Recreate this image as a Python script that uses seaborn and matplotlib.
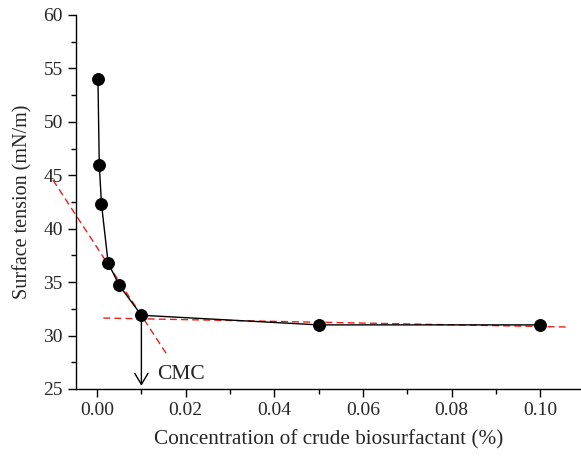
import matplotlib
matplotlib.use("Agg")
import matplotlib.pyplot as plt
import seaborn as sns
import numpy as np
import pandas as pd
from matplotlib.ticker import MultipleLocator

conc = [0.0002, 0.0005, 0.001, 0.0025, 0.005, 0.01, 0.05, 0.1]
tension = [54.0, 46.0, 42.3, 36.8, 34.7, 31.9, 31.0, 31.0]

steep_x = [-0.00995, 0.0158]
steep_y = [44.56, 28.2]
flat_x = [0.0014, 0.106]
flat_y = [31.64, 30.8]

cmc_x = 0.01
cmc_y_top = 31.9

x_ticks = [0.00, 0.02, 0.04, 0.06, 0.08, 0.10]
y_ticks = [25, 30, 35, 40, 45, 50, 55, 60]

sns.set_style("ticks")
plt.rcParams["font.family"] = ["Liberation Serif", "DejaVu Serif"]
plt.rcParams["xtick.direction"] = "out"
plt.rcParams["ytick.direction"] = "out"

fig = plt.figure(figsize=(5.81, 4.57), dpi=100)
ax = fig.add_axes([0.1308, 0.1488, 0.868, 0.8184])

df = pd.DataFrame({"conc": conc, "tension": tension})
sns.lineplot(data=df, x="conc", y="tension", ax=ax, color="black", lw=1.0,
             marker="o", markersize=8.5, markeredgecolor="black", zorder=4)

ax.plot(steep_x, steep_y, ls=(0, (5, 3)), color="#e8211c", lw=1.0, zorder=3, clip_on=False)
ax.plot(flat_x, flat_y, ls=(0, (5, 3)), color="#e8211c", lw=1.0, zorder=3)

ax.annotate("", xy=(cmc_x, 25.3), xytext=(cmc_x, cmc_y_top),
            arrowprops=dict(arrowstyle="->,head_length=0.5,head_width=0.3", color="black",
                            lw=1.0, mutation_scale=16, shrinkA=0, shrinkB=0), zorder=5)
ax.text(cmc_x + 0.0035, 26.4, "CMC", fontsize=15.5, ha="left", va="center")

ax.set_xlim(-0.00475, 0.109)
ax.set_ylim(25, 60)
ax.set_xticks(x_ticks)
ax.set_xticklabels([f"{v:.2f}" for v in x_ticks])
ax.set_yticks(y_ticks)
ax.xaxis.set_minor_locator(MultipleLocator(0.01))
ax.yaxis.set_minor_locator(MultipleLocator(2.5))
ax.tick_params(which="major", length=6, width=1, labelsize=14, color="black")
ax.tick_params(which="minor", length=3.5, width=1, color="black")
for s in ["top", "right"]:
    ax.spines[s].set_visible(False)
for s in ["left", "bottom"]:
    ax.spines[s].set_linewidth(1.0)
    ax.spines[s].set_color("black")

ax.set_xlabel("Concentration of crude biosurfactant (%)", fontsize=15.3, labelpad=8)
ax.set_ylabel("Surface tension (mN/m)", fontsize=14.5, labelpad=8)

fig.savefig("out.png", dpi=100)
